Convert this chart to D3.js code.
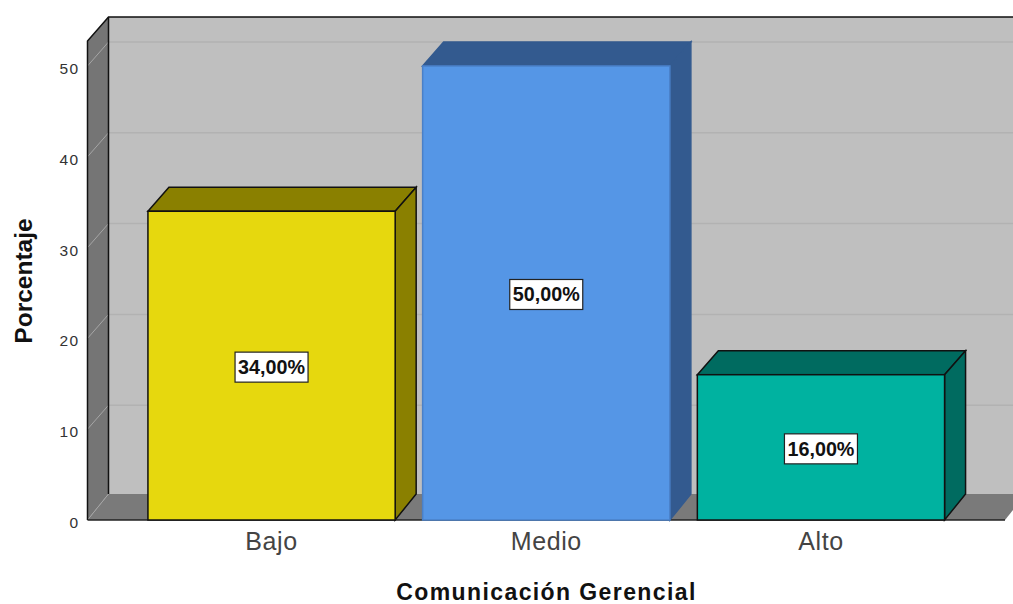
<html>
<body style="margin:0;background:#fff">
<svg width="1013" height="604"></svg>
<style>
  text { font-family: "Liberation Sans", Arial, sans-serif; }
  .axis path { display: none; }
  .axis line { display: none; }
  .ytick text { font-size: 15.5px; fill: #333; letter-spacing: 1.4px; }
  .xtick text { font-size: 25px; fill: #444; letter-spacing: 0.6px; }
  .title { font-size: 23px; font-weight: bold; fill: #111; letter-spacing: 1.4px; }
  .lab { font-size: 20px; font-weight: bold; fill: #111; }
</style>
<script src="https://d3js.org/d3.v7.min.js"></script>
<script>
const categories = ["Bajo", "Medio", "Alto"];
const values = [34, 50, 16];
const labels = ["34,00%", "50,00%", "16,00%"];
const ticks = [0, 10, 20, 30, 40, 50];
const faceColors = ["#e6d80e", "#5596e6", "#00b2a0"];
const sideColors = ["#8a8000", "#335a8f", "#006b60"];
const edgeColors = ["#111", "#4a80c8", "#111"];

// depth of the fake 3d box
const dx = 21, dy = -24;

const svg = d3.select("svg");

const x = d3.scaleBand()
  .domain(categories)
  .range([87.5, 1005])
  .paddingInner(0.1)
  .paddingOuter(0.22);

const y = d3.scaleLinear()
  .domain([0, 52.75])
  .range([520, 41]);

const x0 = 87.5, x1 = 1005, y0 = y(0), yTop = y(52.75);
// the floor runs a little deeper than the walls
const floorBack = y0 + dy - 2;

function poly(pts) {
  return pts.map(p => p.join(",")).join(" ");
}

// back wall
svg.append("polygon")
  .attr("points", poly([[x0 + dx, yTop + dy], [x1 + dx, yTop + dy], [x1 + dx, floorBack], [x0 + dx, floorBack]]))
  .attr("fill", "#bfbfbf");

// left wall
svg.append("polygon")
  .attr("points", poly([[x0, yTop], [x0 + dx, yTop + dy], [x0 + dx, floorBack], [x0, y0]]))
  .attr("fill", "#757575");

// floor
svg.append("polygon")
  .attr("points", poly([[x0, y0], [x0 + dx, floorBack], [x1 + dx, floorBack], [x1, y0]]))
  .attr("fill", "#7a7a7a");

// gridlines
ticks.forEach(function (t) {
  if (t > 0) {
    svg.append("line")
      .attr("x1", x0 + dx).attr("x2", x1 + dx)
      .attr("y1", y(t) + dy).attr("y2", y(t) + dy)
      .attr("stroke", "#b2b2b2").attr("stroke-width", 1.5);
  }
  svg.append("line")
    .attr("x1", x0).attr("x2", x0 + dx)
    .attr("y1", y(t)).attr("y2", t > 0 ? y(t) + dy : floorBack)
    .attr("stroke", "#a6a6a6").attr("stroke-width", 1);
});

// frame lines
svg.append("path")
  .attr("d", "M" + x0 + "," + y0 + "V" + yTop + "L" + (x0 + dx) + "," + (yTop + dy) + "H1013")
  .attr("fill", "none").attr("stroke", "#111").attr("stroke-width", 1.5);
svg.append("line")
  .attr("x1", x0 + dx).attr("x2", x0 + dx)
  .attr("y1", yTop + dy).attr("y2", floorBack)
  .attr("stroke", "#111").attr("stroke-width", 1.5);
svg.append("line")
  .attr("x1", x0).attr("x2", x1)
  .attr("y1", y0).attr("y2", y0)
  .attr("stroke", "#222").attr("stroke-width", 1.5);

// bars
const bars = svg.selectAll(".bar")
  .data(categories)
  .enter().append("g")
  .attr("class", "bar");

bars.append("polygon")
  .attr("points", function (d, i) {
    const l = x(d), r = l + x.bandwidth(), t = y(values[i]);
    return poly([[l, t], [l + dx, t + dy], [r + dx, t + dy], [r, t]]);
  })
  .attr("fill", (d, i) => sideColors[i])
  .attr("stroke", (d, i) => edgeColors[i] == "#111" ? "#111" : sideColors[i])
  .attr("stroke-width", 1.5);

bars.append("polygon")
  .attr("points", function (d, i) {
    const r = x(d) + x.bandwidth(), t = y(values[i]);
    return poly([[r, t], [r + dx, t + dy], [r + dx, floorBack], [r, y0]]);
  })
  .attr("fill", (d, i) => sideColors[i])
  .attr("stroke", (d, i) => edgeColors[i] == "#111" ? "#111" : sideColors[i])
  .attr("stroke-width", 1.5);

bars.append("rect")
  .attr("x", d => x(d))
  .attr("y", (d, i) => y(values[i]))
  .attr("width", x.bandwidth())
  .attr("height", (d, i) => y0 - y(values[i]))
  .attr("fill", (d, i) => faceColors[i])
  .attr("stroke", (d, i) => edgeColors[i])
  .attr("stroke-width", 1.5);

// value labels
bars.append("rect")
  .attr("x", d => x(d) + x.bandwidth() / 2 - 36.5)
  .attr("y", (d, i) => y(values[i] / 2) - 13.5)
  .attr("width", 73)
  .attr("height", 30)
  .attr("fill", "#fff")
  .attr("stroke", "#222")
  .attr("stroke-width", 1.2);

bars.append("text")
  .attr("class", "lab")
  .attr("x", d => x(d) + x.bandwidth() / 2)
  .attr("y", (d, i) => y(values[i] / 2) + 8.5)
  .attr("text-anchor", "middle")
  .attr("textLength", 67)
  .attr("lengthAdjust", "spacingAndGlyphs")
  .text((d, i) => labels[i]);

// axes
svg.append("g")
  .attr("class", "axis ytick")
  .attr("transform", "translate(" + x0 + ",2.5)")
  .call(d3.axisLeft(y).tickValues(ticks).tickSize(0).tickPadding(8));

svg.append("g")
  .attr("class", "axis xtick")
  .attr("transform", "translate(0," + y0 + ")")
  .call(d3.axisBottom(x).tickSize(0).tickPadding(12));

svg.append("text")
  .attr("class", "title")
  .attr("x", 546.5)
  .attr("y", 600)
  .attr("text-anchor", "middle")
  .text("Comunicación Gerencial");

svg.append("text")
  .attr("class", "title")
  .attr("transform", "translate(32,281) rotate(-90)")
  .attr("text-anchor", "middle")
  .style("font-size", "24.5px")
  .style("letter-spacing", "0")
  .text("Porcentaje");
</script>
</body>
</html>
